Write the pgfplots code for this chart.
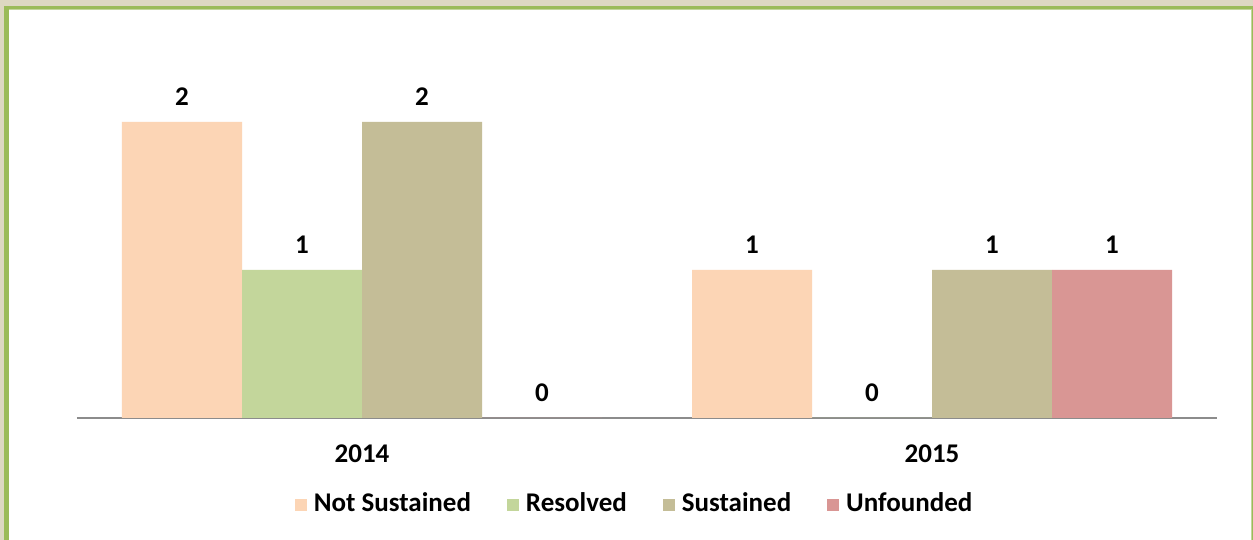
\documentclass[border=0pt]{standalone}
\usepackage{pgfplots}
\pgfplotsset{compat=1.18}
\usepackage{fontspec}
\setmainfont{Carlito}

\definecolor{notsus}{HTML}{FCD5B5}
\definecolor{resolved}{HTML}{C3D69B}
\definecolor{sustained}{HTML}{C4BD97}
\definecolor{unfounded}{HTML}{D99694}
\definecolor{frame}{HTML}{9BBB59}
\definecolor{outer}{HTML}{DDD8C2}

\begin{document}
\begin{tikzpicture}
  % page in px: x=(px-77)*0.5pt, y=(418-py)*0.5pt
  \useasboundingbox (-38.5pt,-61pt) rectangle (588pt,209pt);
  \fill[outer] (-38.5pt,-61pt) rectangle (588pt,209pt);
  \fill[frame] (-36.5pt,-61pt) rectangle (588pt,206pt);
  \fill[frame!60] (-34pt,-61pt) rectangle (587.5pt,204.5pt);
  \fill[white] (-34pt,-61pt) rectangle (587pt,204pt);
  \begin{axis}[
    at={(0,0)}, anchor=south west,
    scale only axis,
    width=570pt, height=185pt,
    xmin=-0.5, xmax=1.5,
    ymin=0, ymax=2.5,
    ybar=0pt,
    bar width=60pt,
    axis y line=none,
    axis x line*=bottom,
    x axis line style={draw=black!45, line width=1pt, -},
    xtick={0,1},
    xticklabels={2014,2015},
    major tick length=0pt,
    xticklabel style={font=\fontsize{13.5}{15}\selectfont\bfseries, yshift=-10pt},
    nodes near coords={\pgfmathprintnumber{\pgfplotspointmeta}},
    every node near coord/.append style={font=\fontsize{13.5}{15}\selectfont\bfseries, yshift=4.5pt},
    /pgf/number format/assume math mode=true,
    clip=false,
    legend columns=4,
    legend style={at={(axis description cs:0.490,-0.232)}, anchor=center,
      draw=none, fill=none, font=\fontsize{13.5}{15}\selectfont\bfseries,
      /tikz/every odd column/.append style={column sep=1.5pt},
      /tikz/every even column/.append style={column sep=16pt}},
    legend image code/.code={\fill[#1] (0pt,-3.5pt) rectangle (6pt,2.5pt);},
  ]
  \addplot[fill=notsus, draw=none] coordinates {(0,2) (1,1)};
  \addplot[fill=resolved, draw=none] coordinates {(0,1) (1,0)};
  \addplot[fill=sustained, draw=none] coordinates {(0,2) (1,1)};
  \addplot[fill=unfounded, draw=none] coordinates {(0,0) (1,1)};
  \legend{Not Sustained, Resolved, Sustained, Unfounded}
  \end{axis}
\end{tikzpicture}
\end{document}
